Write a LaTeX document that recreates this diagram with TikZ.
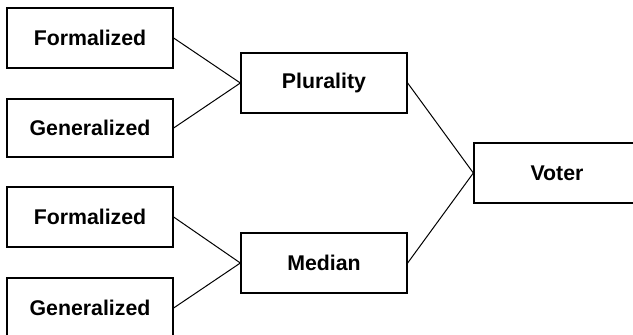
\documentclass[tikz,border=0pt]{standalone}
\usepackage{fontspec}
\setmainfont{Liberation Sans}
\begin{document}
\begin{tikzpicture}[x=1pt, y=-1pt,
    box/.style={draw, line width=1.3pt, minimum width=166pt, minimum height=60pt,
      inner sep=0pt, font=\fontsize{21.3}{25}\selectfont\bfseries},
    link/.style={line width=1pt}]
      \clip (0, 0) rectangle (633, 335);
      \node [box] (form1) at (90, 38) {Formalized};
      \node [box, minimum height=58pt] (gen1) at (90, 128) {Generalized};
      \node [box] (form2) at (90, 217) {Formalized};
      \node [box] (gen2) at (90, 308) {Generalized};
      \node [box] (plur) at (324, 83) {Plurality};
      \node [box] (med) at (324, 263) {Median};
      \node [box] (voter) at (557, 173) {Voter};
      \draw [link] (form1.east) -- (plur.west);
      \draw [link] (gen1.east) -- (plur.west);
      \draw [link] (form2.east) -- (med.west);
      \draw [link] (gen2.east) -- (med.west);
      \draw [link] (plur.east) -- (voter.west);
      \draw [link] (med.east) -- (voter.west);
    \end{tikzpicture}
\end{document}
